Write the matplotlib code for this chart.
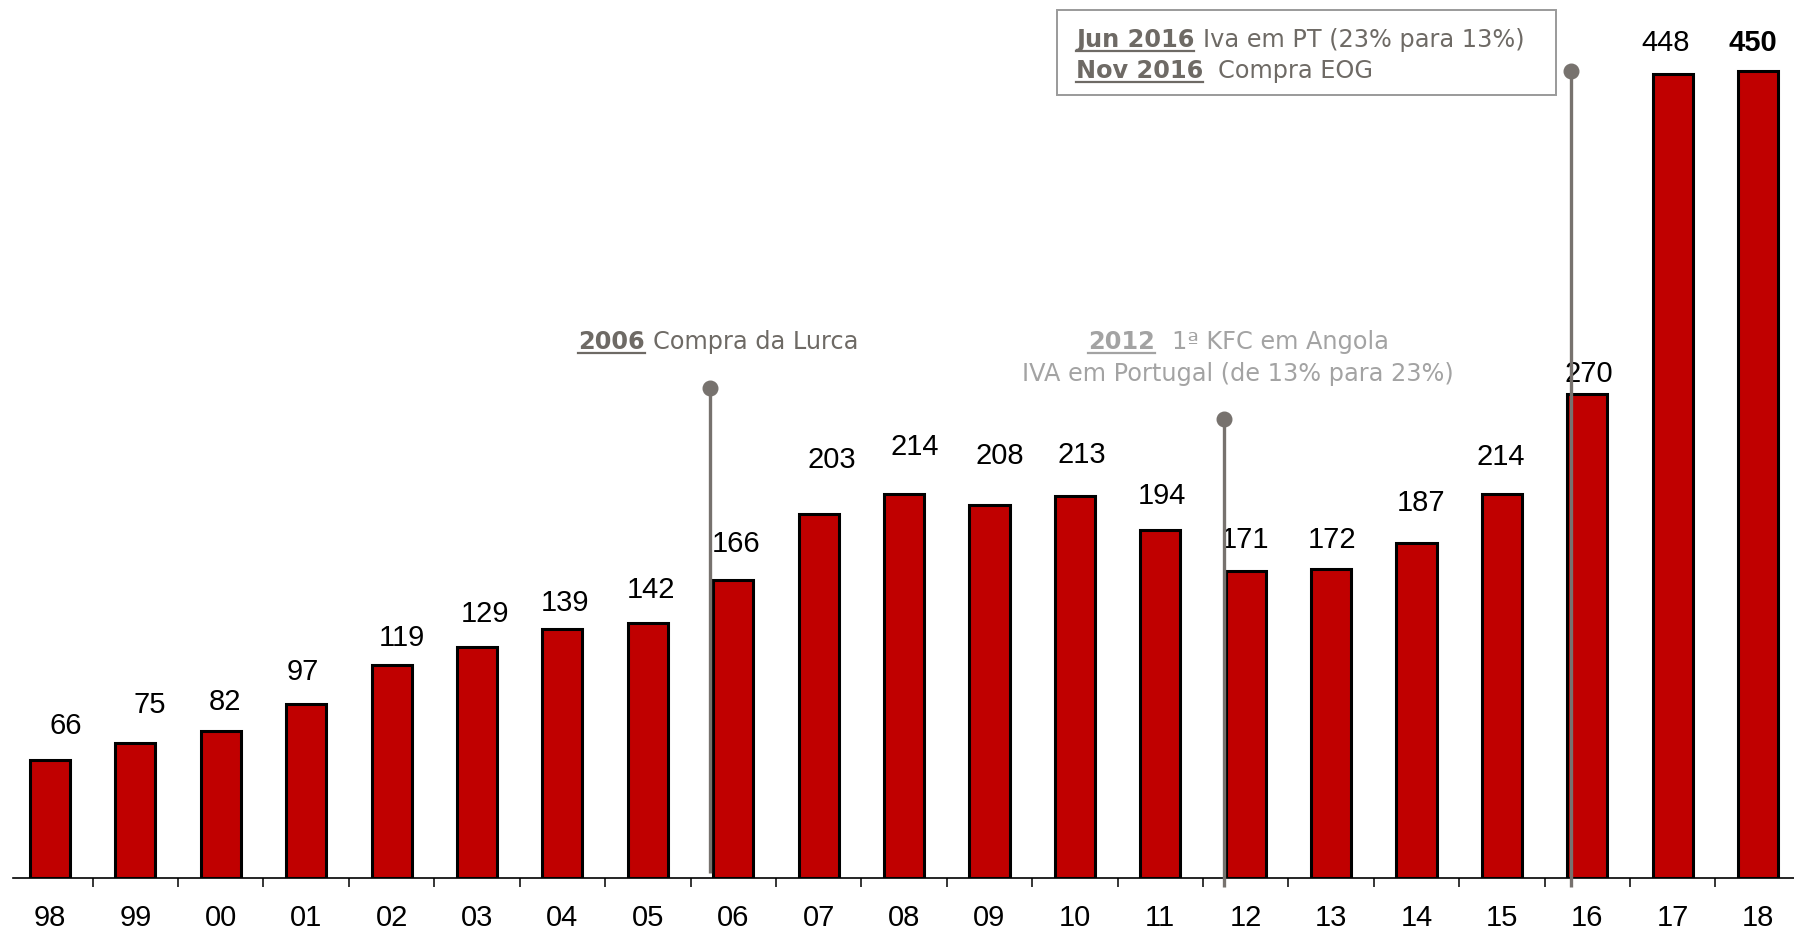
import matplotlib
matplotlib.use('Agg')
import matplotlib.pyplot as plt
from matplotlib.patches import Rectangle
import numpy as np

# vendas (milhoes) por ano
years = ['98', '99', '00', '01', '02', '03', '04', '05', '06', '07', '08',
         '09', '10', '11', '12', '13', '14', '15', '16', '17', '18']
sales = [66, 75, 82, 97, 119, 129, 139, 142, 166, 203, 214,
         208, 213, 194, 171, 172, 187, 214, 270, 448, 450]

# eventos: posicao no eixo x (anos) e altura do pino
event_x = [7.73, 13.75, 17.81]
event_top = [273, 256, 450]
event_bottom = [3, -5, -5]

# deslocamento dos rotulos em pixels (como no original)
label_dx = [16, 14, 4, -3, 10, 8, 3, 3, 3, 13, 11, 10, 7, 2, -1, 1, 5, -1, 1, -7, -5]
label_dy = [36, 40, 31, 34, 29, 35, 28, 35, 38, 56, 49, 51, 43, 36, 33, 31, 42, 39, 22, 33, 30]

W, H, DPI = 1794, 932, 100
NOTE = '#6e6a65'
NOTE_LIGHT = '#a3a3a3'
PIN = '#77726e'

fig = plt.figure(figsize=(W / DPI, H / DPI), dpi=DPI)
ax = fig.add_axes([13 / W, 54 / H, 1 - 13 / W, 1 - 54 / H])
ax.set_xlim(-0.433, 20.42)
ax.set_ylim(0, 489.4)

x = np.arange(len(years))
ax.bar(x, sales, width=0.47, color='#c00000', edgecolor='black', linewidth=2.2, zorder=2)

for i, v in enumerate(sales):
    ax.annotate(str(v), (i, v), xytext=(label_dx[i], label_dy[i] - 10),
                textcoords='offset pixels', ha='center', va='baseline',
                fontsize=21, family='Liberation Sans',
                fontweight='bold' if i == len(sales) - 1 else 'normal', zorder=3)

for ex, top, bot in zip(event_x, event_top, event_bottom):
    ax.plot([ex, ex], [bot, top], color=PIN, lw=2.4, zorder=4, clip_on=False,
            solid_capstyle='butt')
    ax.plot(ex, top, 'o', color=PIN, ms=10.5, zorder=4, clip_on=False)

ax.set_xticks(x, years)
ax.set_xticks(x[:-1] + 0.5, minor=True)
ax.tick_params(axis='x', which='major', length=0, pad=18.5, labelsize=21)
ax.tick_params(axis='x', which='minor', length=6.5, width=1.1, color='black', direction='out')
for lab in ax.get_xticklabels():
    lab.set_family('Liberation Sans')
ax.set_yticks([])
for s in ['left', 'right', 'top']:
    ax.spines[s].set_visible(False)
ax.spines['bottom'].set_linewidth(1.2)

renderer = fig.canvas.get_renderer()


def rich_line(x0, base, parts, color, center=False):
    # parts: (texto, negrito/sublinhado, espaco antes em px)
    items = []
    for txt, strong, gap in parts:
        t = fig.text(0, 1 - base / H, txt, fontsize=17.3, family='DejaVu Sans',
                     fontweight='bold' if strong else 'normal', color=color,
                     ha='left', va='baseline', zorder=7)
        w = t.get_window_extent(renderer).width
        items.append((t, w, gap, strong))
    total = sum(w + g for _, w, g, _ in items)
    cur = x0 - total / 2 if center else x0
    for t, w, gap, strong in items:
        cur += gap
        t.set_x(cur / W)
        if strong:
            fig.add_artist(plt.Line2D([cur / W, (cur + w) / W],
                                      [1 - (base + 3.5) / H, 1 - (base + 3.5) / H],
                                      color=color, lw=1.6, zorder=7))
        cur += w


rich_line(578, 349, [('2006', True, 0), ('Compra da Lurca', False, 8)], NOTE)
rich_line(1238, 349, [('2012', True, 0), ('1ª KFC em Angola', False, 17)], NOTE_LIGHT, center=True)
rich_line(1238, 381, [('IVA em Portugal (de 13% para 23%)', False, 0)], NOTE_LIGHT, center=True)

fig.add_artist(Rectangle((1057 / W, 1 - 95 / H), 499 / W, 85 / H, transform=fig.transFigure,
                         facecolor='white', edgecolor='#9a9a9a', lw=1.4, zorder=5))
rich_line(1076, 47, [('Jun 2016', True, 0), ('Iva em PT (23% para 13%)', False, 9)], NOTE)
rich_line(1076, 78, [('Nov 2016', True, 0), ('Compra EOG', False, 15)], NOTE)

fig.savefig('out.png', dpi=DPI)
